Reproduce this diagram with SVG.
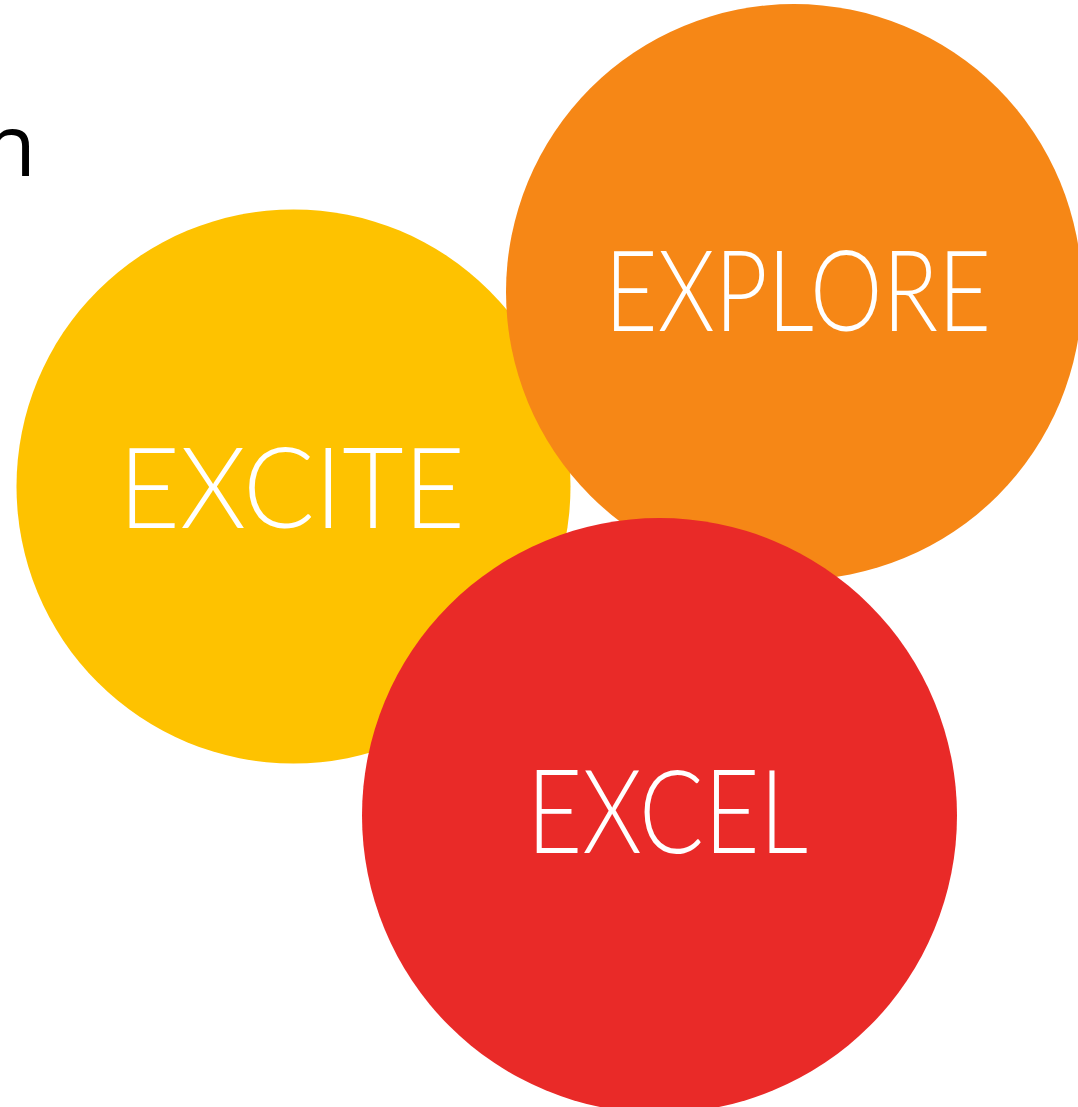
<svg xmlns="http://www.w3.org/2000/svg" width="1078" height="1107" viewBox="0 0 1078 1107">
<style>
.lbl{font-family:"Lato","Open Sans","Liberation Sans",sans-serif;font-weight:300;fill:#ffffff;}
</style>
<rect width="1078" height="1107" fill="#ffffff"/>
<text x="36" y="176" text-anchor="end" font-family="Open Sans, Liberation Sans, sans-serif" font-size="86" fill="#000000">n</text>
<g id="excite">
<circle cx="293.5" cy="486.5" r="277" fill="#fec200"/>
<text class="lbl" x="118.6" y="528" font-size="112" textLength="346.5" lengthAdjust="spacingAndGlyphs">EXCITE</text>
</g>
<g id="explore">
<circle cx="794" cy="292" r="288" fill="#f68716"/>
<text class="lbl" x="604.6" y="331" font-size="112" textLength="386.5" lengthAdjust="spacingAndGlyphs">EXPLORE</text>
</g>
<g id="excel">
<circle cx="659.5" cy="815.5" r="297.5" fill="#e92a28"/>
<text class="lbl" x="526.7" y="853" font-size="116" textLength="281.3" lengthAdjust="spacingAndGlyphs">EXCEL</text>
</g>
<g id="connectors"/>
</svg>
